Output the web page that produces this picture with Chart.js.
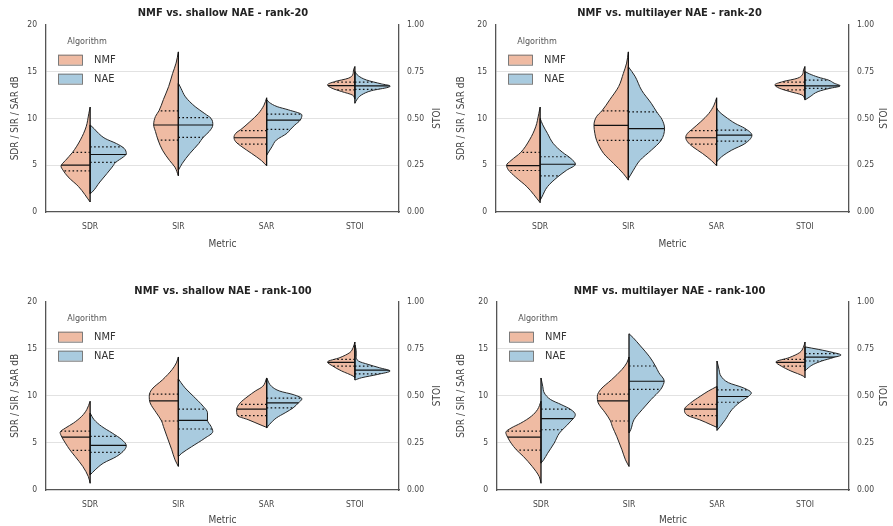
<!DOCTYPE html>
<html>
<head>
<meta charset="utf-8">
<script src="https://cdn.jsdelivr.net/npm/chart.js@4.4.1/dist/chart.umd.min.js"></script>
<style>
  html, body { margin: 0; padding: 0; background: #fff; }
  #wrap { position: relative; width: 893px; height: 526px; overflow: hidden; }
  canvas { position: absolute; }
</style>
</head>
<body>
<div id="wrap">
  <canvas id="c0" width="446" height="250" style="left:0;top:0"></canvas>
  <canvas id="c1" width="447" height="250" style="left:446px;top:0"></canvas>
  <canvas id="c2" width="446" height="276" style="left:0;top:250px"></canvas>
  <canvas id="c3" width="447" height="276" style="left:446px;top:250px"></canvas>
</div>
<script>
/* split violins: NMF (left half) vs NAE (right half) */

const metrics    = ['SDR', 'SIR', 'SAR', 'STOI'];
const algorithms = ['NMF', 'NAE'];
const titles = [
  'NMF vs. shallow NAE - rank-20',
  'NMF vs. multilayer NAE - rank-20',
  'NMF vs. shallow NAE - rank-100',
  'NMF vs. multilayer NAE - rank-100'
];
const leftTicks  = [0, 5, 10, 15, 20];
const rightTicks = [0, 0.25, 0.5, 0.75, 1];

// outline of each half: [value, half width (in category units)], bottom tip -> top tip
// quartiles: [q1, median, q3] per metric; STOI is on the right axis
const nmfShape20s = [
  [[1.07,0],[2.7,0.13],[3.75,0.25],[4.5,0.31],[4.9,0.33],[5.5,0.28],[6.36,0.2],[7.7,0.11],[9.1,0.045],[10.5,0.015],[11.2,0]],
  [[3.86,0],[4.8,0.04],[5.5,0.1],[6.6,0.18],[7.68,0.23],[8.6,0.26],[9.3,0.28],[10.2,0.26],[10.8,0.22],[12,0.17],[13.4,0.11],[14.8,0.065],[15.9,0.026],[17.1,0]],
  [[4.93,0],[5.5,0.06],[6.25,0.17],[6.96,0.28],[7.5,0.35],[7.96,0.37],[8.4,0.35],[8.9,0.28],[9.64,0.19],[10.5,0.095],[11.4,0.03],[12.2,0]],
  [[0.604,0],[0.625,0.03],[0.643,0.15],[0.661,0.26],[0.679,0.31],[0.696,0.23],[0.714,0.075],[0.732,0.025],[0.759,0.015],[0.777,0]]
];
const naeShape20s = [
  [[1.96,0],[2.1,0.02],[3.2,0.11],[4.1,0.19],[4.8,0.25],[5.3,0.29],[5.9,0.38],[6.2,0.41],[6.8,0.385],[7.3,0.3],[7.85,0.17],[8.4,0.095],[8.9,0.045],[9.3,0]],
  [[4.46,0],[5.2,0.045],[6.25,0.13],[7.3,0.23],[7.96,0.28],[8.6,0.35],[9.29,0.39],[10.0,0.37],[10.5,0.3],[11.25,0.19],[12.3,0.08],[13.2,0.03],[13.75,0]],
  [[6.07,0],[6.96,0.06],[7.68,0.11],[8.4,0.23],[8.82,0.27],[9.29,0.32],[9.8,0.38],[10.36,0.4],[10.9,0.25],[11.25,0.12],[11.7,0.03],[12.0,0]],
  [[0.58,0],[0.598,0.02],[0.625,0.075],[0.648,0.19],[0.666,0.38],[0.673,0.4],[0.684,0.3],[0.705,0.13],[0.727,0.04],[0.75,0]]
];
const nmfQ20s = [[4.4,5.0,6.36],[7.68,9.29,10.8],[7.25,7.93,8.68],[0.652,0.675,0.693]];
const naeQ20s = [[5.3,6.14,6.96],[7.96,9.29,10.07],[8.82,9.82,10.46],[0.655,0.673,0.693]];

const nmfShape20m = [
  [[1.0,0],[2.7,0.15],[3.75,0.28],[4.5,0.36],[5.0,0.38],[5.5,0.33],[6.36,0.22],[7.7,0.12],[9.1,0.05],[10.5,0.015],[11.2,0]],
  [[3.4,0],[4.1,0.057],[5.2,0.17],[6.25,0.28],[7.64,0.36],[8.4,0.38],[9.25,0.39],[10.2,0.36],[10.8,0.3],[12.0,0.21],[13.4,0.11],[14.8,0.057],[15.9,0.02],[17.1,0]],
  [[4.93,0],[5.5,0.06],[6.25,0.16],[6.96,0.27],[7.5,0.33],[7.96,0.35],[8.4,0.33],[8.9,0.27],[9.64,0.18],[10.5,0.09],[11.4,0.03],[12.2,0]],
  [[0.604,0],[0.625,0.035],[0.643,0.17],[0.661,0.29],[0.679,0.34],[0.696,0.25],[0.714,0.085],[0.732,0.03],[0.759,0.015],[0.777,0]]
];
const naeShape20m = [
  [[1.25,0],[1.6,0.02],[2.7,0.083],[3.75,0.2],[4.46,0.3],[5.1,0.4],[5.7,0.35],[6.4,0.25],[7.3,0.15],[8.4,0.083],[9.3,0.03],[10.0,0]],
  [[3.57,0],[4.46,0.057],[5.5,0.13],[6.6,0.26],[7.64,0.37],[8.93,0.41],[9.9,0.38],[10.7,0.32],[11.6,0.26],[13.0,0.15],[14.5,0.075],[15.5,0]],
  [[5.36,0],[5.9,0.057],[6.6,0.17],[7.3,0.32],[8.2,0.4],[8.93,0.32],[9.46,0.21],[10.2,0.095],[10.7,0.03],[11.1,0]],
  [[0.598,0],[0.616,0.06],[0.643,0.15],[0.66,0.28],[0.673,0.4],[0.688,0.33],[0.704,0.27],[0.72,0.15],[0.738,0.05],[0.75,0]]
];
const nmfQ20m = [[4.43,4.96,6.36],[7.64,9.25,10.8],[7.25,7.93,8.68],[0.652,0.675,0.693]];
const naeQ20m = [[3.86,5.1,5.9],[7.64,8.9,10.7],[7.57,8.21,8.75],[0.66,0.673,0.704]];

const nmfShape100s = [
  [[0.71,0],[1.42,0.02],[2.5,0.083],[3.56,0.17],[4.27,0.23],[4.98,0.28],[5.62,0.32],[6.12,0.34],[6.58,0.28],[7.1,0.19],[7.83,0.095],[8.54,0.038],[9.43,0]],
  [[2.5,0],[3.2,0.038],[4.27,0.075],[5.7,0.13],[6.76,0.17],[7.33,0.19],[8.2,0.25],[9.25,0.32],[9.96,0.33],[10.7,0.3],[11.7,0.18],[12.8,0.07],[13.5,0.023],[14.13,0]],
  [[6.65,0],[6.94,0.075],[7.47,0.21],[7.9,0.33],[8.54,0.34],[9.25,0.3],[9.96,0.21],[10.5,0.13],[11.0,0.045],[11.9,0]],
  [[0.596,0],[0.605,0.02],[0.632,0.15],[0.658,0.25],[0.68,0.31],[0.703,0.17],[0.73,0.057],[0.756,0.02],[0.786,0]]
];
const naeShape100s = [
  [[1.6,0],[2.14,0.057],[2.85,0.15],[3.56,0.3],[4.27,0.39],[4.7,0.41],[5.34,0.36],[6.05,0.25],[6.76,0.13],[7.47,0.045],[8.19,0]],
  [[3.56,0],[3.9,0.038],[4.6,0.15],[5.5,0.3],[6.2,0.39],[6.76,0.37],[7.4,0.33],[8.2,0.33],[8.9,0.28],[9.96,0.17],[10.85,0.075],[11.4,0.03],[11.8,0]],
  [[6.58,0],[6.94,0.03],[7.65,0.11],[8.2,0.21],[8.72,0.3],[9.25,0.36],[9.68,0.4],[10.14,0.3],[10.5,0.15],[11.0,0.057],[11.9,0]],
  [[0.584,0],[0.596,0.075],[0.614,0.26],[0.632,0.4],[0.649,0.28],[0.667,0.15],[0.685,0.04],[0.71,0.015],[0.74,0.015],[0.77,0]]
];
const nmfQ100s = [[4.2,5.62,6.26],[7.33,9.47,10.18],[7.9,8.6,9.1],[0.658,0.678,0.694]];
const naeQ100s = [[3.99,4.73,5.69],[6.48,7.4,8.6],[8.72,9.25,9.75],[0.617,0.637,0.658]];

const nmfShape100m = [
  [[0.71,0],[1.42,0.02],[2.5,0.1],[3.56,0.2],[4.27,0.28],[4.98,0.34],[5.62,0.38],[6.12,0.4],[6.58,0.34],[7.1,0.23],[7.83,0.11],[8.54,0.04],[9.43,0]],
  [[2.5,0],[3.2,0.04],[4.27,0.08],[5.7,0.14],[6.76,0.19],[7.33,0.21],[8.2,0.27],[9.25,0.35],[9.96,0.36],[10.7,0.32],[11.7,0.2],[12.8,0.08],[13.5,0.025],[14.13,0]],
  [[6.65,0],[6.94,0.07],[7.47,0.2],[7.9,0.33],[8.54,0.37],[9.25,0.3],[9.96,0.19],[10.5,0.1],[11.0,0]],
  [[0.596,0],[0.605,0.02],[0.632,0.16],[0.658,0.27],[0.68,0.33],[0.703,0.18],[0.73,0.06],[0.756,0.02],[0.786,0]]
];
const naeShape100m = [
  [[2.85,0],[3.2,0.03],[3.9,0.075],[4.98,0.15],[6.05,0.21],[7.12,0.32],[8.0,0.39],[8.54,0.34],[9.07,0.23],[9.6,0.11],[10.3,0.038],[11.0,0.02],[11.9,0]],
  [[6.05,0],[6.4,0.02],[7.47,0.057],[8.54,0.15],[9.6,0.25],[10.68,0.36],[11.2,0.39],[11.57,0.4],[12.45,0.34],[13.17,0.3],[14.2,0.23],[15.3,0.13],[16.2,0.045],[16.6,0]],
  [[6.33,0],[6.76,0.038],[7.47,0.095],[8.54,0.17],[9.32,0.26],[9.96,0.36],[10.3,0.39],[10.85,0.3],[11.4,0.13],[12.1,0.045],[12.8,0.023],[13.7,0]],
  [[0.632,0],[0.649,0.038],[0.667,0.095],[0.685,0.19],[0.703,0.32],[0.717,0.41],[0.73,0.32],[0.747,0.15],[0.76,0]]
];
const nmfQ100m = [[4.23,5.62,6.26],[7.33,9.47,10.18],[7.9,8.6,9.1],[0.658,0.678,0.694]];
const naeQ100m = [[6.4,7.58,8.6],[10.68,11.55,13.17],[9.32,9.93,10.64],[0.685,0.706,0.724]];

const NMF_COLOR = '#efbba3';
const NAE_COLOR = '#a9cbdf';
const EDGE = '#262626';
const TEXT = '#444';
const FONT = "'Liberation Sans Narrow', 'DejaVu Sans Condensed', 'Roboto', sans-serif";

Chart.defaults.font.family = FONT;
Chart.defaults.color = TEXT;

// per-panel frame sizes, taken from the reference layout
const panels = [
  { id: 'c0', title: titles[0], nmf: nmfShape20s,  nae: naeShape20s,  nq: nmfQ20s,  aq: naeQ20s,  yW: 46, y2W: 47, xH: 38, padTop: 7,  padBot: 4.5 },
  { id: 'c1', title: titles[1], nmf: nmfShape20m,  nae: naeShape20m,  nq: nmfQ20m,  aq: naeQ20m,  yW: 50, y2W: 44, xH: 38, padTop: 7,  padBot: 4.5 },
  { id: 'c2', title: titles[2], nmf: nmfShape100s, nae: naeShape100s, nq: nmfQ100s, aq: naeQ100s, yW: 46, y2W: 47, xH: 36, padTop: 35, padBot: 3.5 },
  { id: 'c3', title: titles[3], nmf: nmfShape100m, nae: naeShape100m, nq: nmfQ100m, aq: naeQ100m, yW: 51, y2W: 44, xH: 36, padTop: 35, padBot: 3.5 }
];

function buildDatasets(p) {
  const sets = [];
  const extra = [];
  metrics.forEach((m, i) => {
    [[p.nmf, p.nq, -1, NMF_COLOR], [p.nae, p.aq, 1, NAE_COLOR]].forEach(([shape, q, side, color]) => {
      const prof = shape[i];
      sets.push({
        data: prof.map(([v, w]) => ({ x: i + side * w, y: v })),
        yAxisID: m === 'STOI' ? 'y2' : 'y',
        indexAxis: 'y',
        backgroundColor: color,
        borderColor: EDGE,
        borderWidth: 1,
        fill: { value: i },
        pointRadius: 0,
        cubicInterpolationMode: 'monotone'
      });
      extra.push({ cat: i, side, quart: q[i], lo: prof[0][0], hi: prof[prof.length - 1][0] });
    });
  });
  return { sets, extra };
}

// quartile lines, centre split line and the "Algorithm" legend
function innerPlugin(extra) {
  return {
    id: 'violinInner',
    afterDatasetsDraw(chart) {
      const { ctx, scales } = chart;
      const x = scales.x;
      extra.forEach((e, di) => {
        const meta = chart.getDatasetMeta(di);
        const ys = scales[chart.data.datasets[di].yAxisID];
        const cx = x.getPixelForValue(e.cat);
        const far = x.getPixelForValue(e.cat + e.side * 0.5);
        ctx.save();
        ctx.beginPath();
        meta.dataset.path(ctx);
        ctx.closePath();
        ctx.clip();
        ctx.strokeStyle = '#111';
        ctx.lineWidth = 1.2;
        e.quart.forEach((q, k) => {
          const py = ys.getPixelForValue(q);
          ctx.setLineDash(k === 1 ? [] : [1.6, 2.4]);
          ctx.beginPath();
          ctx.moveTo(cx, py);
          ctx.lineTo(far, py);
          ctx.stroke();
        });
        ctx.restore();
        ctx.save();
        ctx.strokeStyle = '#111';
        ctx.lineWidth = 1.3;
        ctx.beginPath();
        ctx.moveTo(cx, ys.getPixelForValue(e.lo));
        ctx.lineTo(cx, ys.getPixelForValue(e.hi));
        ctx.stroke();
        ctx.restore();
      });
    },
    afterDraw(chart) {
      const { ctx, chartArea: a } = chart;
      ctx.save();
      ctx.font = '9px ' + FONT;
      ctx.fillStyle = '#555';
      ctx.textAlign = 'center';
      ctx.textBaseline = 'middle';
      ctx.fillText('Algorithm', a.left + 41, a.top + 17);
      [NMF_COLOR, NAE_COLOR].forEach((c, k) => {
        const yy = a.top + 30 + k * 19;
        ctx.fillStyle = c;
        ctx.strokeStyle = '#7a7a7a';
        ctx.lineWidth = 1;
        ctx.fillRect(a.left + 12, yy, 24, 10);
        ctx.strokeRect(a.left + 12.5, yy + 0.5, 24, 10);
        ctx.fillStyle = '#333';
        ctx.textAlign = 'left';
        ctx.font = '11px ' + FONT;
        ctx.fillText(algorithms[k], a.left + 48, yy + 5.5);
      });
      // right-hand axis label, reading upwards
      const r = chart.scales.y2;
      ctx.translate(r.right - 9, (a.top + a.bottom) / 2);
      ctx.rotate(-Math.PI / 2);
      ctx.textAlign = 'center';
      ctx.fillStyle = TEXT;
      ctx.font = '10px ' + FONT;
      ctx.fillText('STOI', 0, 0);
      ctx.restore();
    }
  };
}

const gridCol = c => (c.tick && c.tick.value > 0 && c.tick.value < 20) ? '#e2e2e2' : 'rgba(0,0,0,0)';

panels.forEach(p => {
  const { sets, extra } = buildDatasets(p);
  new Chart(document.getElementById(p.id), {
    type: 'line',
    data: { datasets: sets },
    plugins: [innerPlugin(extra)],
    options: {
      responsive: false,
      animation: false,
      events: [],
      indexAxis: 'y',
      layout: { padding: 0 },
      plugins: {
        legend: { display: false },
        tooltip: { enabled: false },
        title: {
          display: true,
          text: p.title,
          color: '#222',
          font: { size: 11, weight: 'bold' },
          padding: { top: p.padTop, bottom: p.padBot }
        }
      },
      scales: {
        x: {
          type: 'linear',
          position: 'bottom',
          min: -0.5, max: 3.5,
          afterBuildTicks: s => { s.ticks = metrics.map((_, i) => ({ value: i })); },
          afterFit: s => { s.height = p.xH; },
          ticks: { callback: v => metrics[v], font: { size: 8.5 }, padding: 10, color: TEXT },
          grid: { display: false, drawTicks: false },
          border: { display: true, color: '#555', width: 1.3 },
          title: { display: true, text: 'Metric', font: { size: 10 }, padding: { top: 0, bottom: 0 }, color: TEXT }
        },
        y: {
          type: 'linear',
          position: 'left',
          min: 0, max: 20,
          afterBuildTicks: s => { s.ticks = leftTicks.map(v => ({ value: v })); },
          afterFit: s => { s.width = p.yW; },
          ticks: { font: { size: 8.5 }, padding: 9, color: TEXT },
          grid: { color: gridCol, lineWidth: 1, drawTicks: false },
          border: { display: true, color: '#555', width: 1.3 },
          title: { display: true, text: 'SDR / SIR / SAR dB', font: { size: 10 }, padding: { top: 9, bottom: 0 }, color: TEXT }
        },
        y2: {
          type: 'linear',
          position: 'right',
          min: 0, max: 1,
          afterBuildTicks: s => { s.ticks = rightTicks.map(v => ({ value: v })); },
          afterFit: s => { s.width = p.y2W; },
          ticks: { callback: v => v.toFixed(2), font: { size: 8.5 }, padding: 8, color: TEXT },
          grid: { display: false, drawTicks: false },
          border: { display: true, color: '#555', width: 1.3 }
        }
      }
    }
  });
});
</script>
</body>
</html>
